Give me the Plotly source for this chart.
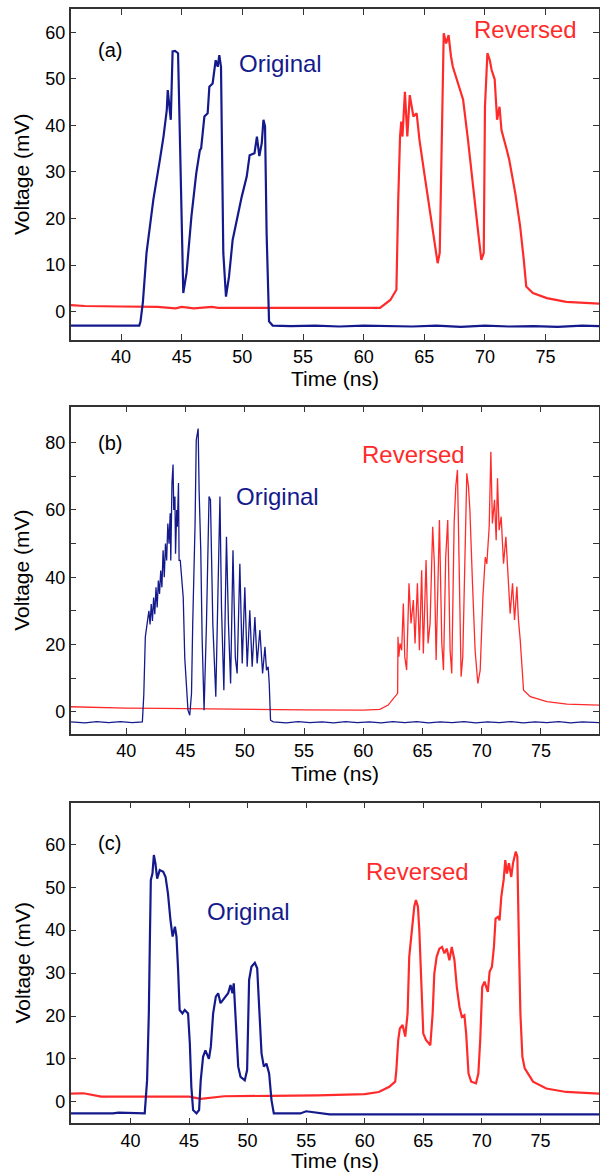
import plotly.graph_objects as go

# ---------------- data (time ns, voltage mV) ----------------
a_original = [
    (35.85, -3.0), (41.5, -3.0), (41.6, -2.2), (41.8, 2.0), (42.1, 12.6), (42.66, 24.0),
    (43.2, 32.6), (43.5, 37.6), (43.77, 43.3), (43.85, 47.6), (43.95, 45.0), (44.1, 41.2),
    (44.25, 55.9), (44.45, 56.0), (44.7, 55.5), (44.87, 35.4), (45.0, 16.9), (45.08, 8.3),
    (45.13, 4.0), (45.4, 8.3), (45.8, 20.4), (46.2, 29.7), (46.5, 34.7), (46.6, 35.0),
    (46.87, 41.9), (47.14, 42.6), (47.28, 48.3), (47.55, 49.0), (47.8, 54.0), (47.97, 52.6),
    (48.1, 55.1), (48.24, 52.6), (48.32, 31.1), (48.43, 12.6), (48.65, 3.2), (48.9, 7.5),
    (49.2, 15.4), (49.6, 20.4), (49.95, 24.7), (50.36, 29.0), (50.6, 33.6), (51.0, 34.0),
    (51.2, 37.6), (51.4, 33.4), (51.6, 36.2), (51.74, 41.2), (51.87, 39.8), (52.0, 16.8),
    (52.1, 6.1), (52.2, -2.1), (52.5, -3.0), (54.0, -3.1), (56.0, -3.0), (58.0, -3.2),
    (60.0, -3.0), (62.0, -3.1), (64.0, -3.2), (66.0, -3.0), (68.0, -3.3), (70.0, -3.0),
    (72.0, -3.2), (74.0, -3.1), (76.0, -3.3), (78.0, -3.0), (79.4, -3.1),
]
a_reversed = [
    (35.85, 1.4), (37.0, 1.2), (40.0, 1.1), (43.0, 1.0), (44.5, 0.7), (45.0, 1.0),
    (46.0, 0.7), (47.5, 1.0), (48.0, 0.8), (50.0, 0.8), (55.0, 0.75), (60.0, 0.7),
    (61.35, 0.8), (62.2, 2.5), (62.7, 4.7), (62.85, 24.0), (63.0, 37.6), (63.1, 40.8),
    (63.2, 37.6), (63.4, 47.2), (63.6, 37.6), (63.8, 46.5), (64.1, 41.9), (64.37, 42.6),
    (64.6, 36.9), (65.0, 29.7), (65.4, 22.5), (65.8, 15.4), (66.1, 10.4), (66.27, 12.6),
    (66.5, 42.0), (66.6, 59.8), (66.8, 57.6), (67.0, 59.4), (67.2, 54.8), (67.35, 52.6),
    (67.6, 50.5), (67.85, 48.3), (68.2, 45.5), (68.6, 36.9), (69.0, 26.8), (69.45, 16.8),
    (69.7, 11.1), (69.9, 12.6), (70.0, 44.0), (70.2, 55.5), (70.4, 54.0), (70.55, 51.9),
    (70.8, 49.9), (71.0, 41.2), (71.2, 44.0), (71.36, 39.0), (71.8, 34.7), (72.0, 32.6),
    (72.5, 25.4), (72.9, 18.3), (73.2, 11.1), (73.4, 5.4), (73.95, 4.0), (75.1, 2.9),
    (76.7, 2.1), (78.4, 1.8), (79.4, 1.7),
]

b_original = [
    (35.3, -3.0), (36.5, -3.3), (37.5, -2.9), (38.5, -3.2), (39.5, -2.9), (40.5, -3.2),
    (41.35, -3.0), (41.47, 5.0), (41.6, 22.3), (41.78, 27.3), (41.9, 30.0), (42.0, 26.0),
    (42.1, 32.0), (42.2, 27.0), (42.3, 34.0), (42.4, 29.0), (42.5, 37.0), (42.6, 31.0),
    (42.7, 39.0), (42.8, 35.0), (42.9, 42.0), (43.0, 37.0), (43.1, 48.0), (43.2, 40.0),
    (43.3, 50.0), (43.4, 45.0), (43.5, 56.0), (43.6, 50.0), (43.7, 59.0), (43.75, 45.0),
    (43.85, 68.0), (43.94, 73.5), (44.0, 60.0), (44.1, 64.0), (44.15, 47.0), (44.25, 60.0),
    (44.3, 55.0), (44.4, 68.0), (44.45, 45.0), (44.55, 45.0), (44.65, 40.0), (44.8, 34.0),
    (44.93, 16.0), (45.07, 8.4), (45.2, 0.5), (45.35, -1.0), (45.5, 5.5), (45.6, 26.0),
    (45.8, 56.0), (45.9, 80.8), (46.06, 84.2), (46.14, 66.0), (46.28, 48.0), (46.4, 21.3),
    (46.56, 0.5), (46.76, 26.0), (46.98, 64.0), (47.1, 63.0), (47.3, 26.0), (47.55, 4.5),
    (47.75, 36.0), (47.9, 64.0), (48.03, 31.0), (48.23, 6.4), (48.45, 52.0), (48.62, 26.0),
    (48.8, 8.4), (49.0, 48.0), (49.2, 16.0), (49.35, 11.4), (49.58, 44.0), (49.78, 14.4),
    (50.0, 37.0), (50.2, 13.4), (50.42, 30.2), (50.62, 13.4), (50.85, 28.2), (51.04, 14.4),
    (51.27, 24.3), (51.5, 11.4), (51.7, 19.3), (51.83, 12.4), (51.97, 13.4), (52.06, 8.4),
    (52.17, -2.5), (52.4, -3.0), (53.5, -3.3), (54.5, -2.9), (55.5, -3.2), (56.5, -3.0),
    (57.5, -3.3), (58.5, -2.9), (59.5, -3.2), (60.5, -3.0), (61.5, -3.3), (62.5, -2.9),
    (63.5, -3.2), (64.5, -2.9), (65.5, -3.3), (66.5, -3.0), (67.5, -3.2), (68.5, -2.9),
    (69.5, -3.3), (70.5, -3.0), (71.5, -3.2), (72.5, -2.9), (73.5, -3.3), (74.5, -3.0),
    (75.5, -3.2), (76.5, -2.9), (77.5, -3.3), (78.5, -3.0), (79.9, -3.2),
]
b_reversed = [
    (35.3, 1.5), (36.5, 1.4), (37.0, 1.2), (40.0, 1.1), (43.0, 1.0), (45.0, 0.9),
    (46.0, 1.0), (50.0, 0.8), (55.0, 0.6), (60.0, 0.5), (61.4, 0.7), (62.1, 2.0),
    (62.7, 4.5), (62.9, 5.5), (62.93, 22.3), (63.0, 16.4), (63.1, 20.3), (63.24, 18.3),
    (63.38, 32.2), (63.5, 16.4), (63.66, 12.4), (63.86, 38.2), (64.03, 26.3), (64.23, 33.2),
    (64.37, 20.3), (64.57, 38.2), (64.74, 18.3), (64.93, 42.1), (65.07, 17.3), (65.3, 45.1),
    (65.47, 20.3), (65.64, 26.3), (65.86, 55.0), (66.0, 44.0), (66.15, 15.4), (66.29, 36.2),
    (66.43, 57.0), (66.63, 20.3), (66.77, 12.4), (66.96, 46.0), (67.13, 57.0), (67.33, 18.3),
    (67.47, 11.4), (67.67, 56.0), (67.81, 67.0), (67.95, 71.9), (68.1, 46.0), (68.26, 10.4),
    (68.4, 16.4), (68.57, 48.0), (68.74, 70.9), (68.88, 67.0), (69.0, 60.0), (69.22, 38.2),
    (69.44, 18.3), (69.67, 8.4), (69.87, 12.4), (70.1, 34.2), (70.3, 46.0), (70.43, 44.0),
    (70.63, 55.0), (70.77, 77.3), (70.9, 56.0), (71.08, 63.0), (71.22, 51.0), (71.33, 69.4),
    (71.47, 54.0), (71.64, 58.0), (71.84, 44.0), (72.04, 52.0), (72.2, 42.0), (72.4, 29.2),
    (72.6, 38.2), (72.77, 27.3), (72.97, 37.2), (73.1, 27.3), (73.25, 21.3), (73.4, 11.4),
    (73.53, 6.4), (74.1, 4.5), (75.5, 3.0), (77.2, 2.3), (79.9, 2.0),
]

c_original = [
    (34.9, -2.7), (38.5, -2.7), (39.0, -2.5), (41.0, -2.6), (41.22, -2.7), (41.42, 5.0),
    (41.57, 20.6), (41.65, 36.0), (41.74, 51.7), (41.88, 53.2), (42.0, 57.5), (42.13, 55.6),
    (42.28, 52.0), (42.5, 54.0), (42.8, 53.6), (43.0, 52.4), (43.2, 48.6), (43.42, 42.3),
    (43.6, 38.5), (43.8, 40.8), (43.93, 38.5), (44.07, 30.7), (44.2, 21.4), (44.44, 20.6),
    (44.64, 21.4), (44.92, 20.6), (45.07, 13.6), (45.2, 3.5), (45.35, -1.9), (45.64, -2.7),
    (45.86, -1.9), (46.0, 5.0), (46.2, 10.5), (46.4, 12.0), (46.7, 10.0), (46.86, 12.8),
    (47.06, 20.6), (47.29, 24.5), (47.49, 25.3), (47.69, 23.0), (47.97, 24.1), (48.34, 25.3),
    (48.54, 27.2), (48.71, 25.3), (48.82, 27.6), (49.0, 19.0), (49.2, 8.2), (49.4, 5.8),
    (49.76, 5.0), (49.96, 7.4), (50.13, 28.4), (50.33, 31.5), (50.62, 32.4), (50.82, 31.1),
    (50.99, 20.6), (51.19, 11.3), (51.39, 8.2), (51.61, 8.9), (51.84, 6.6), (52.04, 0.4),
    (52.24, -2.7), (54.5, -2.7), (55.0, -2.2), (56.0, -2.5), (57.0, -2.9), (60.0, -2.9),
    (65.0, -2.9), (70.0, -2.9), (75.0, -2.9), (80.0, -2.9),
]
c_reversed = [
    (34.9, 1.9), (36.0, 2.0), (37.5, 1.2), (40.0, 1.2), (43.0, 1.2), (45.0, 1.2),
    (46.0, 0.7), (47.0, 1.0), (48.0, 1.3), (52.0, 1.4), (56.0, 1.5), (60.0, 1.8),
    (61.2, 2.3), (62.1, 3.5), (62.6, 4.7), (62.7, 7.4), (62.86, 14.4), (63.0, 17.1),
    (63.23, 17.9), (63.46, 15.2), (63.66, 20.6), (63.8, 33.8), (64.0, 40.0), (64.23, 45.5),
    (64.37, 47.0), (64.54, 45.5), (64.66, 40.0), (64.8, 28.4), (65.0, 15.9), (65.23, 14.4),
    (65.6, 13.2), (65.8, 20.6), (65.94, 29.9), (66.14, 33.8), (66.37, 35.7), (66.6, 36.1),
    (66.8, 34.6), (67.0, 35.7), (67.23, 33.0), (67.43, 36.1), (67.66, 33.0), (67.86, 26.8),
    (68.09, 22.1), (68.29, 19.8), (68.51, 20.2), (68.66, 15.9), (68.86, 6.6), (69.09, 4.7),
    (69.5, 4.3), (69.7, 6.6), (69.86, 14.4), (70.03, 26.8), (70.23, 28.0), (70.51, 25.6),
    (70.66, 30.3), (70.86, 31.5), (71.03, 36.1), (71.17, 42.7), (71.37, 43.1), (71.51, 42.3),
    (71.66, 47.8), (71.86, 51.7), (72.0, 56.3), (72.14, 53.2), (72.31, 55.6), (72.51, 52.4),
    (72.66, 55.6), (72.89, 58.3), (73.03, 57.1), (73.17, 36.1), (73.29, 20.6), (73.46, 10.5),
    (73.66, 7.8), (74.37, 4.7), (75.5, 3.1), (77.2, 2.3), (80.0, 1.9),
]

x_tick_vals = [40, 45, 50, 55, 60, 65, 70, 75]
ya_ticks = [0, 10, 20, 30, 40, 50, 60]
yb_ticks = [0, 10, 20, 30, 40, 50, 60, 70, 80]
yb_text = ["0", "", "20", "", "40", "", "60", "", "80"]
yc_ticks = [0, 10, 20, 30, 40, 50, 60]

# ---------------- styling ----------------
W, H = 600, 1173
BLUE = "#141a8c"
RED = "#ff2b2b"
FONT = "Liberation Sans, Arial, Helvetica, sans-serif"
AX = "#333333"

def py(p):
    return 1 - p / H

x_dom = [70.7 / W, 599 / W]
panels = [
    dict(orig=a_original, rev=a_reversed, xr=[35.85, 79.4], yr=[-6.1, 65.0], top=9, bot=340,
         yt=ya_ticks, ytt=[str(v) for v in ya_ticks], lw=2.2, tag="(a)",
         tagpos=(110, 50), opos=(280.5, 63), rpos=(525, 29)),
    dict(orig=b_original, rev=b_reversed, xr=[35.3, 79.9], yr=[-6.6, 90.7], top=406.7, bot=734,
         yt=yb_ticks, ytt=yb_text, lw=1.3, tag="(b)",
         tagpos=(110, 443), opos=(277.5, 496), rpos=(414, 454)),
    dict(orig=c_original, rev=c_reversed, xr=[34.9, 80.0], yr=[-5.0, 69.7], top=802.7, bot=1123.3,
         yt=yc_ticks, ytt=[str(v) for v in yc_ticks], lw=2.2, tag="(c)",
         tagpos=(110, 843), opos=(248.5, 912), rpos=(417.5, 871)),
]

fig = go.Figure()
annotations = []
layout = dict(
    width=W, height=H, margin=dict(l=0, r=0, t=0, b=0),
    paper_bgcolor="white", plot_bgcolor="white", showlegend=False,
    font=dict(family=FONT, color="black"),
)

for i, p in enumerate(panels, start=1):
    xa = "x" if i == 1 else f"x{i}"
    ya = "y" if i == 1 else f"y{i}"
    for data, col, name in ((p["rev"], RED, "Reversed"), (p["orig"], BLUE, "Original")):
        fig.add_trace(go.Scatter(
            x=[d[0] for d in data], y=[d[1] for d in data], mode="lines", name=name,
            line=dict(color=col, width=p["lw"]), xaxis=xa, yaxis=ya,
        ))
    common = dict(showline=True, linecolor=AX, linewidth=1.5, mirror="ticks",
                  ticks="inside", ticklen=6, tickwidth=1.3, tickcolor=AX,
                  showgrid=False, zeroline=False,
                  tickfont=dict(size=18, family=FONT, color="black"))
    layout["xaxis" if i == 1 else f"xaxis{i}"] = dict(
        common, domain=x_dom, range=p["xr"], anchor=ya,
        tickmode="array", tickvals=x_tick_vals)
    layout["yaxis" if i == 1 else f"yaxis{i}"] = dict(
        common, domain=[py(p["bot"]), py(p["top"])], range=p["yr"], anchor=xa,
        tickmode="array", tickvals=p["yt"], ticktext=p["ytt"])
    mid = (p["top"] + p["bot"]) / 2
    annotations += [
        dict(text="Voltage (mV)", x=21.5 / W, y=py(mid), textangle=-90,
             font=dict(size=21, family=FONT, color="black")),
        dict(text="Time (ns)", x=334.9 / W, y=py(min(p["bot"] + 39, 1160)),
             font=dict(size=21, family=FONT, color="black")),
        dict(text=p["tag"], x=p["tagpos"][0] / W, y=py(p["tagpos"][1]),
             font=dict(size=20, family=FONT, color="black")),
        dict(text="Original", x=p["opos"][0] / W, y=py(p["opos"][1]),
             font=dict(size=24, family=FONT, color=BLUE)),
        dict(text="Reversed", x=p["rpos"][0] / W, y=py(p["rpos"][1]),
             font=dict(size=24, family=FONT, color=RED)),
    ]

for a in annotations:
    a.update(xref="paper", yref="paper", showarrow=False, xanchor="center", yanchor="middle")
layout["annotations"] = annotations
fig.update_layout(**layout)
fig.write_html("out.html")
